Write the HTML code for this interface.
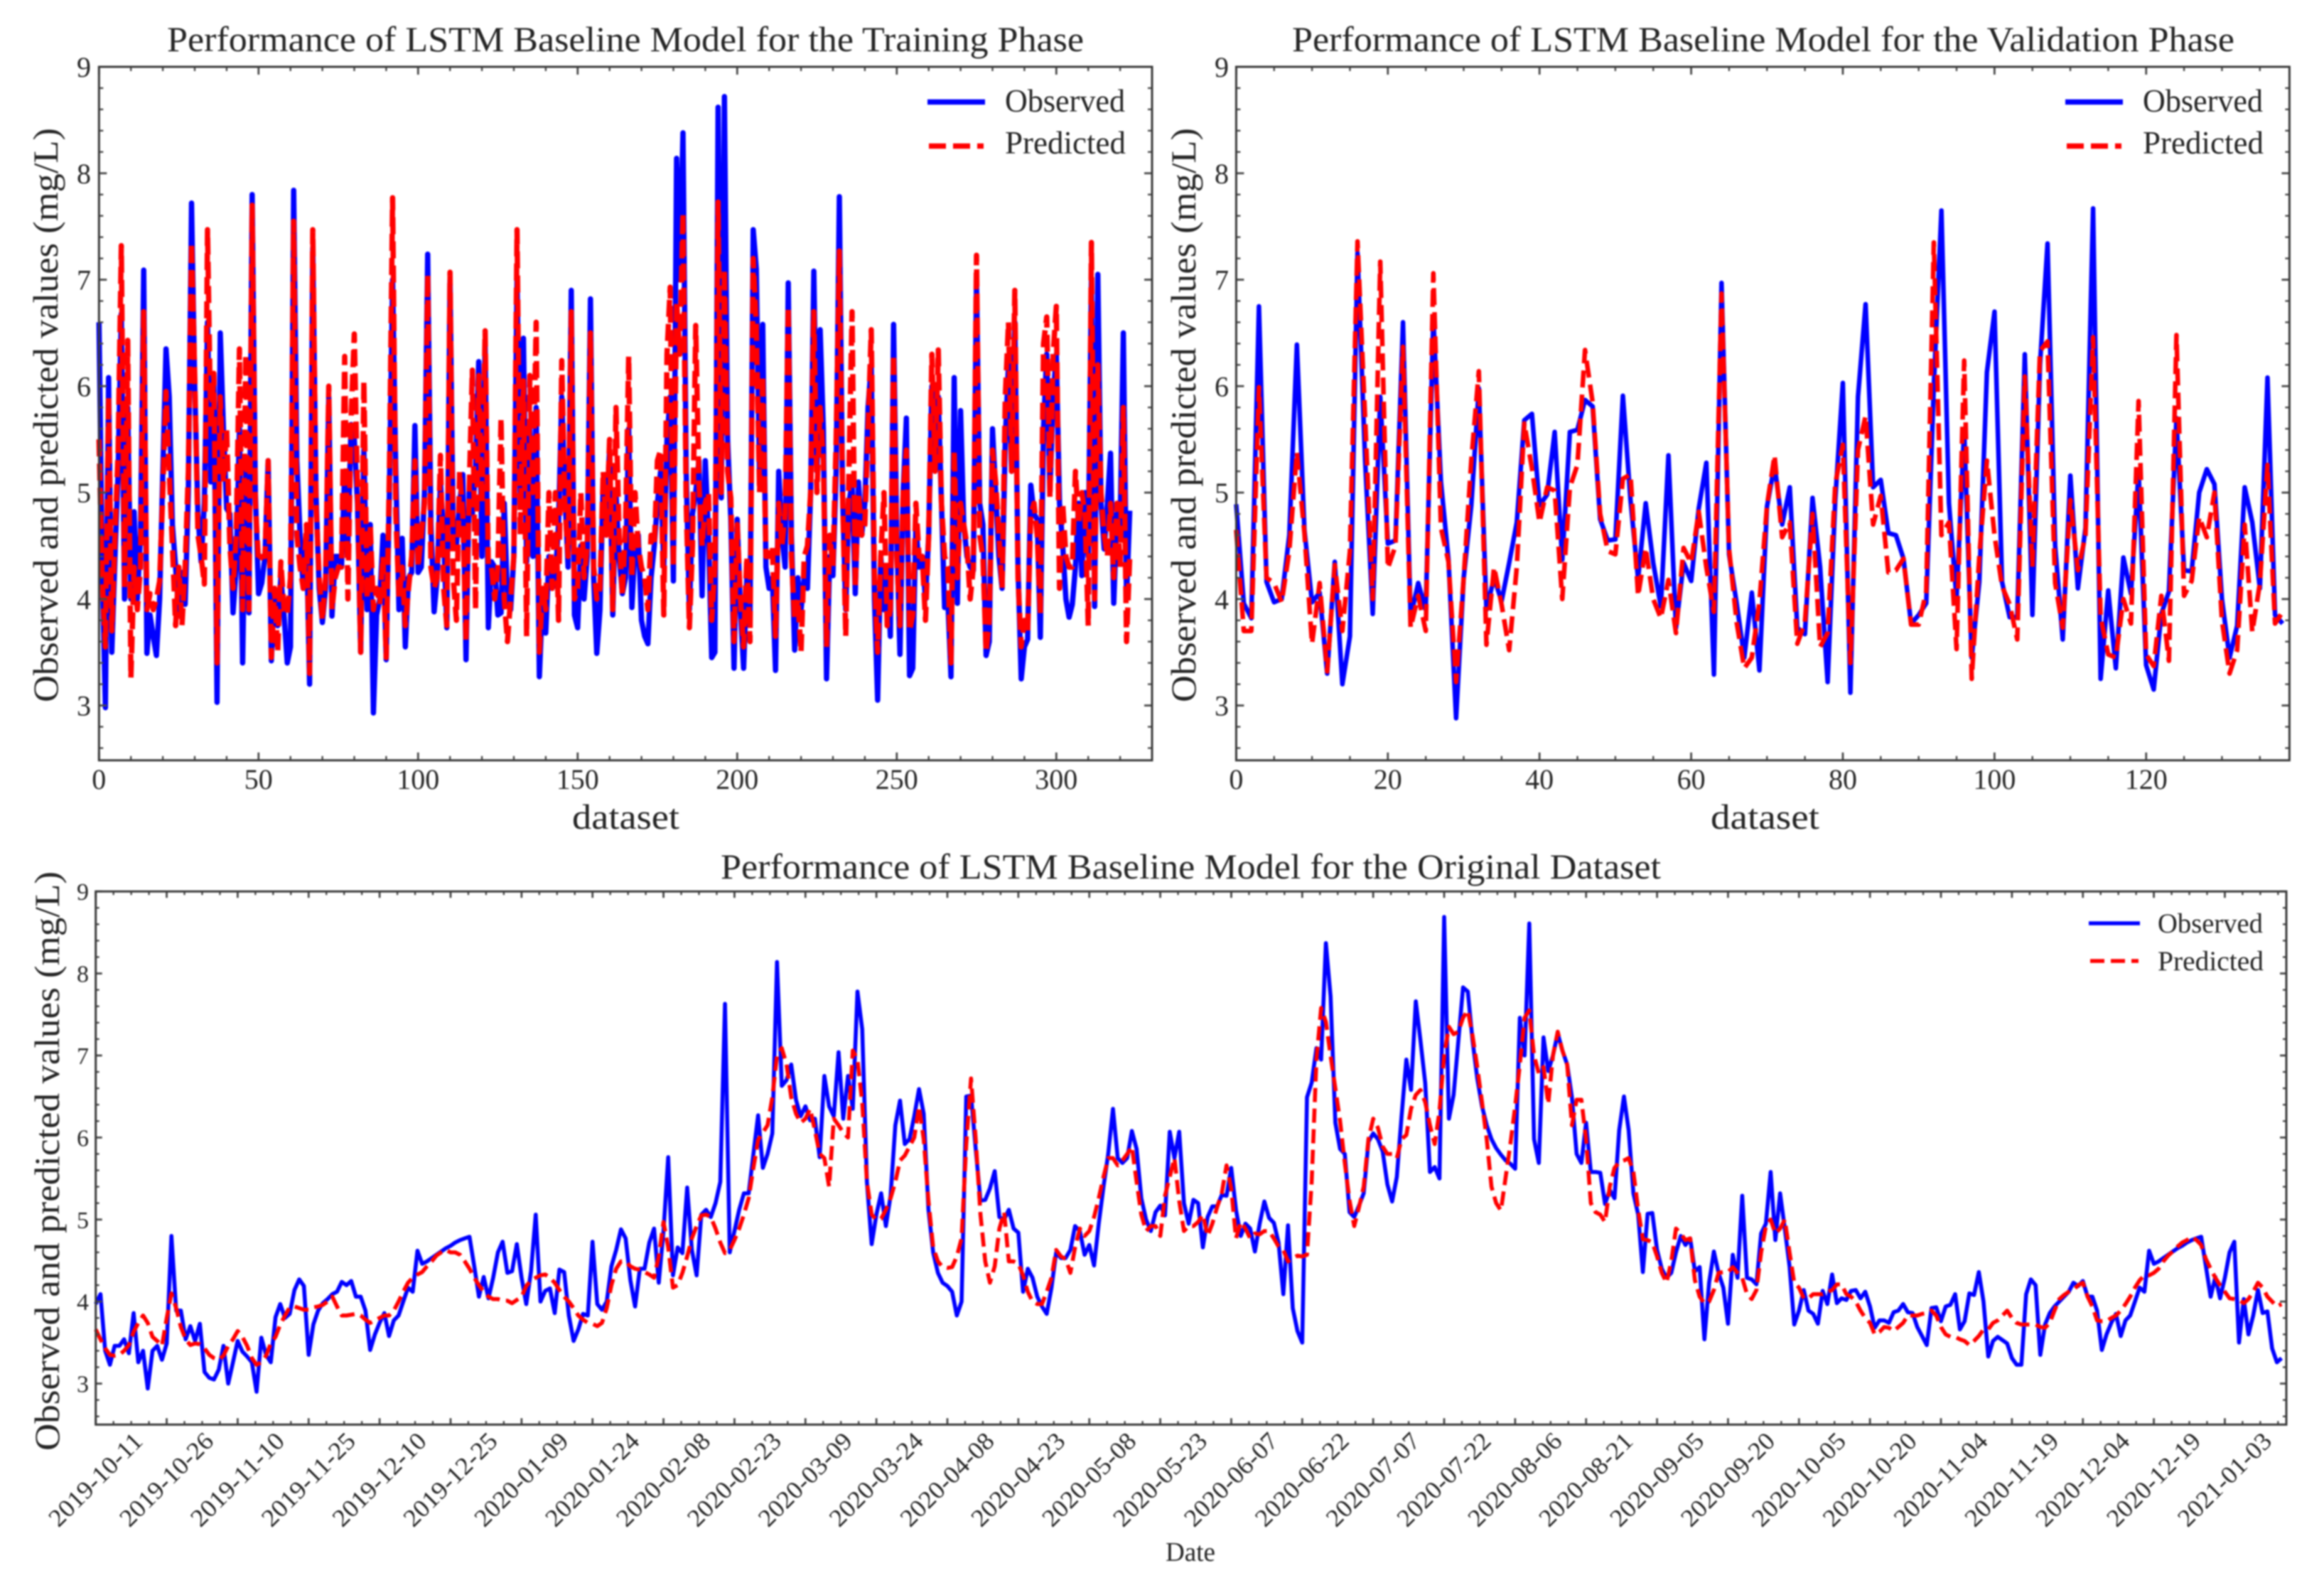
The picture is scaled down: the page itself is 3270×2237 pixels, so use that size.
<!DOCTYPE html>
<html lang="en">
<head>
<meta charset="utf-8">
<title>Performance of LSTM Baseline Model</title>
<style>
  html, body { margin: 0; padding: 0; background: #fff; }
  #figure { display: block; width: 3270px; height: 2237px; filter: blur(1px); }
  text { font-family: "Liberation Serif", serif; fill: #262626; }
  .title { font-size: 50px; }
  .axis-label { font-size: 50px; }
  .legend-top { font-size: 45px; }
  .legend-bottom { font-size: 39px; }
</style>
</head>
<body>
<svg id="figure" xmlns="http://www.w3.org/2000/svg" width="3270" height="2237" viewBox="0 0 3270 2237">
  <rect x="0" y="0" width="3270" height="2237" fill="#ffffff"/>

  <g id="panel-train"></g>
  <g id="panel-val"></g>
  <g id="panel-all"></g>

  <text class="title" x="235" y="72" textLength="1290" lengthAdjust="spacingAndGlyphs">Performance of LSTM Baseline Model for the Training Phase</text>
  <text class="title" x="1818" y="72" textLength="1326" lengthAdjust="spacingAndGlyphs">Performance of LSTM Baseline Model for the Validation Phase</text>
  <text class="title" x="1014" y="1236" textLength="1323" lengthAdjust="spacingAndGlyphs">Performance of LSTM Baseline Model for the Original Dataset</text>

  <text class="axis-label" transform="translate(81,988) rotate(-90)" textLength="808" lengthAdjust="spacingAndGlyphs">Observed and predicted values (mg/L)</text>
  <text class="axis-label" transform="translate(1682,988) rotate(-90)" textLength="808" lengthAdjust="spacingAndGlyphs">Observed and predicted values (mg/L)</text>
  <text class="axis-label" transform="translate(83,2041) rotate(-90)" textLength="815" lengthAdjust="spacingAndGlyphs">Observed and predicted values (mg/L)</text>

  <text class="axis-label" x="805" y="1166" textLength="151" lengthAdjust="spacingAndGlyphs">dataset</text>
  <text class="axis-label" x="2417" y="1166" textLength="153" lengthAdjust="spacingAndGlyphs" transform="translate(-10,0)">dataset</text>
  <text x="1640" y="2196" textLength="70" lengthAdjust="spacingAndGlyphs" font-size="38">Date</text>

  <g>
    <line x1="1305" y1="143.5" x2="1386" y2="143.5" stroke="#0000ff" stroke-width="7.5"/>
    <text class="legend-top" x="1414" y="157" textLength="169" lengthAdjust="spacingAndGlyphs">Observed</text>
    <line x1="1307" y1="205.5" x2="1384" y2="205.5" stroke="#ff0000" stroke-width="7.5" stroke-dasharray="24 10"/>
    <text class="legend-top" x="1414" y="216" textLength="170" lengthAdjust="spacingAndGlyphs">Predicted</text>
  </g>
  <g>
    <line x1="2906" y1="143.5" x2="2987" y2="143.5" stroke="#0000ff" stroke-width="7.5"/>
    <text class="legend-top" x="3015" y="157" textLength="169" lengthAdjust="spacingAndGlyphs">Observed</text>
    <line x1="2908" y1="205.5" x2="2985" y2="205.5" stroke="#ff0000" stroke-width="7.5" stroke-dasharray="24 10"/>
    <text class="legend-top" x="3015" y="216" textLength="170" lengthAdjust="spacingAndGlyphs">Predicted</text>
  </g>
  <g>
    <line x1="2939" y1="1299" x2="3011" y2="1299" stroke="#0000ff" stroke-width="5.6"/>
    <text class="legend-bottom" x="3036" y="1312" textLength="148" lengthAdjust="spacingAndGlyphs">Observed</text>
    <line x1="2941" y1="1352" x2="3009" y2="1352" stroke="#ff0000" stroke-width="5.6" stroke-dasharray="20 9"/>
    <text class="legend-bottom" x="3036" y="1365" textLength="149" lengthAdjust="spacingAndGlyphs">Predicted</text>
  </g>
</svg>

<script>
const trainObserved = [6.6,4.3,2.98,6.08,3.5,4.4,5.2,6.68,4.0,5.8,4.0,4.82,4.0,4.6,7.09,3.49,3.85,3.65,3.47,4.0,5.2,6.35,5.9,4.7,4.3,3.85,4.25,3.95,5.0,7.72,6.0,4.8,4.35,4.9,6.6,5.1,6.1,3.03,6.5,5.6,4.85,4.8,3.87,4.3,5.6,3.4,5.2,3.87,7.8,5.0,4.05,4.15,4.4,5.3,3.42,4.1,3.75,4.2,3.85,3.4,3.55,7.84,5.3,4.6,4.1,4.6,3.2,7.3,5.0,4.1,3.78,4.1,5.9,3.84,4.4,4.4,4.3,5.2,4.5,5.64,5.5,4.9,3.5,5.4,3.9,4.7,2.93,3.85,4.0,4.6,3.43,5.0,7.0,5.2,3.9,4.57,3.55,4.2,4.25,5.63,4.25,4.3,5.0,7.24,4.7,3.88,4.2,5.1,4.6,3.73,7.0,4.6,4.5,4.9,5.17,3.43,5.0,4.8,5.2,6.23,4.4,6.4,3.73,4.35,4.3,3.85,3.87,4.9,4.0,3.9,4.4,7.0,5.0,6.45,4.35,5.6,4.4,5.8,3.27,4.0,3.68,4.4,4.1,4.2,4.7,5.9,5.0,4.3,6.9,3.85,3.73,4.5,4.0,4.4,6.82,4.2,3.49,3.9,5.1,4.8,5.4,3.85,5.0,4.4,4.05,4.2,5.6,3.92,4.5,4.6,3.8,3.65,3.58,4.2,4.5,4.9,5.2,4.3,5.5,5.9,4.17,8.14,7.0,8.38,5.2,3.9,4.8,5.0,5.3,4.03,5.3,4.6,3.45,3.5,8.62,4.95,8.72,5.5,4.75,3.35,4.75,3.9,3.35,4.2,3.8,7.47,7.1,5.15,6.58,4.3,4.1,4.2,3.33,5.2,4.6,4.3,6.97,4.6,3.52,4.2,3.9,4.2,4.1,5.0,7.08,5.2,6.53,5.6,3.25,4.4,4.22,5.2,7.78,5.0,3.9,4.9,5.1,4.05,5.1,4.6,4.9,5.8,6.2,4.0,3.05,4.4,3.9,4.3,3.65,6.58,4.6,3.48,5.0,5.7,3.28,3.35,4.7,4.3,4.4,4.0,4.6,6.0,5.3,5.9,4.9,3.92,4.0,3.27,6.08,3.96,5.77,4.7,4.4,4.3,4.27,7.0,4.9,4.7,3.47,3.6,5.6,5.0,4.4,4.1,5.5,6.2,5.2,6.6,4.3,3.25,3.55,3.62,5.07,4.8,4.75,3.64,5.6,6.3,5.0,5.9,6.3,4.9,4.5,4.0,3.83,3.95,4.3,4.9,4.22,5.0,4.4,7.0,3.93,7.05,4.9,4.47,4.9,5.37,3.96,4.8,4.7,6.5,4.0,4.83];
const trainPredicted = [5.5,4.2,3.55,5.9,3.7,4.6,5.4,7.32,4.1,6.43,3.26,4.3,3.9,4.3,6.7,3.9,4.05,3.9,4.0,4.17,5.0,5.95,5.2,4.5,3.75,4.3,3.75,4.3,5.2,7.35,6.1,4.6,4.4,4.14,7.47,5.6,6.12,3.4,5.9,5.1,5.6,4.5,4.1,4.6,6.35,3.9,6.3,3.9,7.7,4.9,4.35,4.4,4.4,5.3,3.45,4.1,3.5,4.35,3.9,3.85,4.2,7.55,4.6,4.3,4.1,4.7,3.3,7.47,4.9,4.2,3.8,4.2,6.0,3.9,4.2,4.3,4.3,6.28,4.0,5.7,6.49,5.0,3.5,6.05,4.0,4.7,3.9,4.1,3.95,4.4,3.45,5.2,7.77,4.8,4.0,4.3,3.75,4.1,4.4,5.3,4.3,4.6,4.9,7.05,4.3,4.1,4.2,5.35,4.1,3.75,7.07,4.2,3.8,5.2,4.8,3.6,5.0,6.15,3.9,6.1,4.9,6.52,4.3,4.3,4.0,4.3,5.7,4.0,3.6,4.0,4.4,7.47,4.6,6.05,3.65,6.1,5.0,6.6,3.5,4.1,3.9,5.0,4.1,5.0,3.8,6.24,4.9,4.4,6.7,4.0,4.1,5.0,4.2,4.5,6.5,4.3,4.0,4.1,5.2,4.6,5.5,3.9,5.8,4.6,4.03,4.7,6.28,4.2,5.0,4.5,4.3,4.2,3.9,4.6,4.5,5.3,5.4,3.85,6.3,6.93,4.3,6.8,6.3,7.63,4.9,3.73,4.5,6.57,5.1,4.5,4.9,5.0,3.8,4.3,7.73,5.0,7.1,5.2,4.95,3.6,4.7,4.0,3.55,4.4,3.6,7.2,6.55,5.0,6.1,4.4,4.4,4.5,3.65,4.9,4.5,4.8,6.75,4.4,3.8,4.0,3.5,4.4,4.5,5.0,6.7,5.0,5.8,5.3,3.55,4.6,4.3,5.5,7.27,5.0,3.65,5.2,6.7,4.1,5.0,4.6,4.7,5.6,6.53,4.2,3.5,4.4,5.0,3.75,3.9,6.3,4.4,3.75,5.0,5.4,3.7,3.85,4.9,4.4,4.4,3.8,4.6,6.3,5.2,6.34,4.9,4.4,4.3,3.4,5.4,4.2,4.9,4.7,4.5,4.0,4.3,7.23,4.6,4.4,3.5,3.8,5.4,5.1,4.6,4.1,5.9,6.6,5.2,6.9,4.2,3.55,3.8,3.7,4.8,4.9,4.6,3.85,6.4,6.65,4.95,6.3,6.75,4.1,4.9,4.4,4.3,4.3,5.2,4.7,5.0,4.8,3.75,7.35,4.0,6.2,5.0,4.6,4.4,4.9,4.2,4.9,4.3,5.8,3.6,4.4];

const valObserved = [4.89,3.96,3.82,6.75,4.16,3.97,4.0,4.6,6.39,4.65,3.97,4.06,3.3,4.35,3.2,3.65,7.25,5.3,3.86,5.9,4.52,4.55,6.6,3.83,4.15,3.9,6.64,5.1,4.37,2.88,4.2,4.88,5.98,3.9,4.2,3.98,4.34,4.72,5.68,5.74,4.88,4.98,5.57,4.37,5.57,5.59,5.87,5.81,4.75,4.55,4.56,5.91,4.93,4.19,4.9,4.34,3.93,5.35,3.73,4.34,4.17,4.85,5.28,3.29,6.97,4.42,3.96,3.45,4.06,3.33,4.87,5.26,4.7,5.05,3.73,3.67,4.95,4.3,3.22,4.93,6.03,3.12,5.9,6.77,5.05,5.12,4.62,4.6,4.38,3.77,3.85,3.96,6.0,7.65,4.9,4.0,5.6,3.45,4.16,6.13,6.7,4.16,3.83,3.83,6.3,3.85,6.2,7.34,4.5,3.62,5.16,4.1,4.67,7.67,3.25,4.08,3.35,4.39,4.05,5.2,3.38,3.15,3.86,4.07,5.7,4.27,4.26,5.0,5.22,5.08,4.0,3.45,3.75,5.05,4.72,4.1,6.08,3.85,3.77];
const valPredicted = [4.65,3.7,3.7,5.99,4.2,4.15,3.97,4.45,5.38,4.62,3.58,4.15,3.32,4.32,3.7,4.45,7.36,5.7,4.0,7.17,4.29,4.5,6.37,3.73,4.03,3.7,7.06,4.67,4.35,3.22,4.2,5.3,6.14,3.57,4.3,3.95,3.52,4.3,5.65,5.23,4.72,5.05,5.02,4.0,5.05,5.26,6.34,5.85,4.8,4.45,4.42,5.13,5.17,4.03,4.48,4.0,3.82,4.18,3.68,4.48,4.34,4.82,4.3,3.88,6.87,4.47,3.78,3.35,3.45,3.97,4.88,5.35,4.58,4.72,3.58,3.78,4.8,3.55,3.68,5.08,5.45,3.4,5.4,5.72,4.7,4.97,4.25,4.27,4.38,3.76,3.76,4.07,7.35,4.6,4.72,3.53,6.24,3.25,4.4,5.3,4.6,4.12,3.95,3.62,6.09,4.3,6.33,6.42,4.15,3.73,4.93,4.27,4.6,6.46,3.83,3.48,3.45,4.0,3.77,5.86,3.48,3.37,4.03,3.42,6.48,4.03,4.17,4.77,4.58,5.0,3.8,3.3,3.52,4.7,3.69,4.15,5.26,3.77,3.88];

const allObserved = [3.97,4.09,3.4,3.23,3.46,3.46,3.54,3.37,3.86,3.26,3.4,2.94,3.4,3.46,3.29,3.49,4.8,3.89,3.89,3.54,3.7,3.52,3.73,3.14,3.07,3.05,3.17,3.46,3.0,3.26,3.52,3.39,3.33,3.26,2.9,3.56,3.35,3.26,3.81,3.97,3.8,3.85,4.14,4.27,4.19,3.35,3.72,3.89,3.98,4.03,4.09,4.12,4.24,4.2,4.25,4.06,4.06,3.89,3.41,3.6,3.74,3.86,3.58,3.77,3.83,4.0,4.17,4.12,4.62,4.46,4.49,4.53,4.57,4.61,4.65,4.68,4.72,4.75,4.77,4.79,4.43,4.06,4.3,4.04,4.29,4.6,4.73,4.35,4.37,4.7,4.29,3.97,4.37,5.06,4.0,4.13,4.16,3.86,4.39,4.36,3.83,3.52,3.66,3.85,3.83,4.73,3.97,3.9,4.0,4.43,4.63,4.88,4.77,4.26,3.94,4.4,4.4,4.72,4.89,4.23,4.86,5.76,4.32,4.66,4.59,5.39,4.63,4.32,5.06,5.12,5.03,5.2,5.46,7.63,4.6,4.86,5.12,5.32,5.32,5.8,6.27,5.63,5.8,6.05,8.14,6.63,6.7,6.89,6.46,6.26,6.38,6.21,6.23,5.76,6.75,6.38,6.26,7.04,6.23,6.75,6.35,7.78,7.32,5.46,4.7,5.06,5.32,4.92,5.29,6.15,6.45,5.92,5.98,6.26,6.59,6.29,5.12,4.6,4.35,4.23,4.19,4.12,3.83,4.0,6.5,6.51,5.86,5.23,5.24,5.38,5.59,5.03,5.0,5.12,4.89,4.84,4.12,4.4,4.29,4.06,3.94,3.85,4.17,4.6,4.53,4.53,4.63,4.92,4.86,4.57,4.69,4.44,4.95,5.4,5.8,6.35,5.75,5.69,5.75,6.08,5.86,5.26,5.0,4.86,5.09,5.17,5.05,6.07,5.75,6.07,5.2,4.95,5.24,5.2,4.66,5.03,5.16,5.16,5.3,5.29,5.63,5.12,4.8,4.95,4.89,4.61,4.95,5.22,5.02,4.96,4.72,4.09,4.93,3.92,3.64,3.5,6.49,6.67,7.09,6.95,8.37,7.72,6.18,5.86,5.8,5.09,5.03,5.17,5.32,5.95,6.05,5.98,5.83,5.43,5.22,5.52,6.26,6.95,6.58,7.66,7.18,6.66,5.58,5.64,5.5,8.69,6.23,6.52,7.18,7.83,7.78,7.18,6.72,6.38,6.15,5.98,5.87,5.79,5.72,5.68,5.62,7.46,7.0,8.61,5.98,5.69,7.22,6.81,7.0,7.27,7.06,6.89,6.49,5.8,5.69,6.18,5.58,5.58,5.57,5.19,5.36,5.26,6.09,6.5,6.09,5.32,5.06,4.36,5.07,5.08,4.63,4.4,4.29,4.35,4.6,4.8,4.69,4.77,4.37,4.42,3.54,4.23,4.61,4.35,4.17,3.73,4.57,4.29,5.29,4.29,4.27,4.21,4.83,4.95,5.58,4.75,5.32,4.89,4.43,3.72,3.89,4.14,3.89,3.85,3.73,4.13,3.97,4.33,3.98,4.04,4.02,4.13,4.14,4.04,4.12,3.94,3.68,3.77,3.77,3.74,3.87,3.89,3.97,3.87,3.86,3.69,3.58,3.47,3.92,3.93,3.76,3.94,3.96,4.09,3.66,3.76,4.1,4.08,4.36,4.0,3.33,3.52,3.57,3.53,3.49,3.31,3.23,3.23,4.09,4.27,4.2,3.35,3.72,3.86,3.94,4.0,4.06,4.12,4.23,4.19,4.25,4.06,4.06,3.89,3.41,3.6,3.74,3.85,3.58,3.77,3.83,4.0,4.17,4.12,4.62,4.46,4.49,4.53,4.57,4.61,4.65,4.68,4.72,4.75,4.77,4.79,4.43,4.06,4.3,4.04,4.29,4.6,4.73,3.5,4.03,3.6,3.83,4.14,3.86,3.88,3.43,3.26,3.31];
const allPredicted = [3.66,3.54,3.43,3.35,3.34,3.35,3.4,3.47,3.63,3.74,3.83,3.74,3.57,3.52,3.46,3.8,4.1,3.92,3.69,3.54,3.47,3.49,3.48,3.43,3.35,3.31,3.29,3.34,3.46,3.54,3.64,3.57,3.46,3.31,3.23,3.26,3.34,3.49,3.57,3.72,3.83,3.93,3.94,3.92,3.9,3.9,3.93,3.94,3.96,4.0,4.06,3.94,3.83,3.83,3.84,3.85,3.83,3.78,3.74,3.77,3.8,3.83,3.83,3.89,4.0,4.12,4.23,4.29,4.33,4.36,4.43,4.49,4.56,4.6,4.63,4.6,4.6,4.57,4.49,4.4,4.29,4.2,4.12,4.06,4.03,4.03,4.01,4.01,3.98,4.02,4.06,4.19,4.26,4.29,4.32,4.33,4.29,4.23,4.14,4.06,4.0,3.92,3.83,3.78,3.74,3.73,3.7,3.74,3.92,4.2,4.4,4.49,4.49,4.43,4.4,4.39,4.36,4.33,4.29,4.55,4.97,4.66,4.17,4.2,4.35,4.55,4.77,4.92,5.05,5.06,5.03,4.89,4.72,4.59,4.63,4.75,4.89,5.06,5.26,5.63,5.97,6.06,6.15,6.49,7.0,7.09,6.89,6.49,6.29,6.18,6.23,6.35,6.09,5.8,5.75,5.4,6.23,6.15,6.06,6.0,7.06,6.95,6.43,5.46,5.06,5.0,5.01,5.12,5.26,5.46,5.72,5.78,5.89,6.0,6.38,5.98,5.23,4.66,4.49,4.42,4.41,4.42,4.55,4.77,5.92,6.72,5.98,5.06,4.49,4.23,4.43,4.89,5.09,4.49,4.49,4.46,4.32,4.12,4.0,3.97,3.97,4.12,4.29,4.63,4.55,4.52,4.35,4.66,4.89,4.8,4.86,5.03,5.26,5.52,5.75,5.75,5.66,5.72,5.8,5.89,5.46,5.06,4.86,4.92,4.92,4.8,5.29,5.52,5.75,5.23,4.86,4.92,4.92,4.97,5.06,4.8,4.95,5.15,5.32,5.66,5.38,4.77,4.97,4.89,4.77,4.83,4.82,4.86,4.86,4.77,4.67,4.63,4.49,4.53,4.56,4.55,4.57,5.46,6.95,7.58,7.41,7.0,6.6,6.2,5.69,5.23,4.92,5.15,5.4,5.98,6.23,6.12,5.89,5.8,5.8,5.75,5.98,6.03,6.35,6.52,6.58,6.43,6.15,5.92,6.32,7.0,7.35,7.26,7.29,7.46,7.55,7.24,6.86,6.43,5.98,5.4,5.2,5.11,5.52,5.92,6.38,6.89,7.46,7.55,7.0,6.78,6.86,6.41,7.0,7.29,7.06,6.89,6.15,6.46,6.46,5.98,5.2,5.09,5.06,4.97,5.4,5.63,5.7,5.72,5.75,5.58,5.12,4.76,4.75,4.72,4.55,4.35,4.23,4.49,4.89,4.83,4.75,4.77,4.26,4.06,3.98,4.0,4.14,4.35,4.36,4.36,4.42,4.35,4.29,4.09,4.03,4.14,4.6,4.92,5.0,4.83,4.89,5.0,4.6,4.23,4.17,4.04,4.04,4.09,4.09,4.09,4.12,4.14,4.21,4.21,4.09,4.06,4.0,3.89,3.8,3.74,3.6,3.63,3.69,3.68,3.64,3.69,3.74,3.83,3.83,3.83,3.85,3.86,3.89,3.83,3.69,3.6,3.57,3.57,3.54,3.52,3.47,3.52,3.58,3.66,3.66,3.74,3.77,3.83,3.89,3.8,3.74,3.72,3.72,3.72,3.72,3.69,3.68,3.74,3.89,4.03,4.08,4.12,4.14,4.2,4.23,4.06,3.94,3.77,3.76,3.76,3.8,3.83,3.89,3.97,4.06,4.17,4.26,4.32,4.32,4.35,4.4,4.49,4.56,4.61,4.67,4.72,4.75,4.79,4.75,4.69,4.52,4.4,4.29,4.2,4.12,4.04,4.03,4.02,3.98,4.03,4.12,4.23,4.17,4.06,4.0,3.94,3.97];

const dateLabels = ["2019-10-11","2019-10-26","2019-11-10","2019-11-25","2019-12-10","2019-12-25","2020-01-09","2020-01-24","2020-02-08","2020-02-23","2020-03-09","2020-03-24","2020-04-08","2020-04-23","2020-05-08","2020-05-23","2020-06-07","2020-06-22","2020-07-07","2020-07-22","2020-08-06","2020-08-21","2020-09-05","2020-09-20","2020-10-05","2020-10-20","2020-11-04","2020-11-19","2020-12-04","2020-12-19","2021-01-03"];
const yTickValues = [3,4,5,6,7,8,9];
const trainXTicks = [0,50,100,150,200,250,300];
const valXTicks = [0,20,40,60,80,100,120];

const SVGNS = 'http://www.w3.org/2000/svg';

function addLine(parent, x1, y1, x2, y2, width, name) {
  const el = document.createElementNS(SVGNS, 'line');
  el.setAttribute('x1', x1);
  el.setAttribute('y1', y1);
  el.setAttribute('x2', x2);
  el.setAttribute('y2', y2);
  el.setAttribute('stroke', '#4a4a4a');
  el.setAttribute('stroke-width', width);
  
  
  parent.appendChild(el);
}

function addLabel(parent, x, y, str, size, anchor, name, rotate) {
  const el = document.createElementNS(SVGNS, 'text');
  if (rotate) {
    el.setAttribute('transform', 'translate(' + x + ',' + y + ') rotate(' + rotate + ')');
    el.setAttribute('y', '11');
    el.setAttribute('textLength', '170');
    el.setAttribute('lengthAdjust', 'spacingAndGlyphs');
  } else {
    el.setAttribute('x', x);
    el.setAttribute('y', y);
  }
  el.setAttribute('font-size', size);
  el.setAttribute('text-anchor', anchor);
  
  
  el.textContent = str;
  parent.appendChild(el);
}

function addSeries(parent, values, sx, sy, color, width, dash, name) {
  const el = document.createElementNS(SVGNS, 'polyline');
  el.setAttribute('points', values.map(function (v, i) { return sx(i).toFixed(1) + ',' + sy(v).toFixed(1); }).join(' '));
  el.setAttribute('fill', 'none');
  el.setAttribute('stroke', color);
  el.setAttribute('stroke-width', width);
  el.setAttribute('stroke-linejoin', 'round');
  if (dash) el.setAttribute('stroke-dasharray', dash);
  
  
  parent.appendChild(el);
}

function drawPanel(c) {
  const g = document.getElementById(c.id);
  const sx = function (v) { return c.left + (v - c.xMin) / (c.xMax - c.xMin) * (c.right - c.left); };
  const sy = function (v) { return c.top + (c.yMax - v) / (c.yMax - c.yMin) * (c.bottom - c.top); };

  addSeries(g, c.observed, sx, sy, '#0000ff', c.lineWidth, null, 'observed-line');
  addSeries(g, c.predicted, sx, sy, '#ff0000', c.lineWidth, c.dash, 'predicted-line');

  for (let v = c.xMin; v <= c.xMax; v += c.xMinorStep) {
    addLine(g, sx(v), c.bottom, sx(v), c.bottom - c.minorLen, 2.4, 'x-minor-tick');
    addLine(g, sx(v), c.top, sx(v), c.top + c.minorLen, 2.4, 'x-minor-tick-top');
  }
  for (let v = 2.6; v < 9; v += 0.2) {
    if (sy(v) < c.bottom) {
      addLine(g, c.left, sy(v), c.left + c.minorLen, sy(v), 2.4, 'y-minor-tick');
      addLine(g, c.right, sy(v), c.right - c.minorLen, sy(v), 2.4, 'y-minor-tick-right');
    }
  }
  c.xTicks.forEach(function (v, i) {
    addLine(g, sx(v), c.bottom, sx(v), c.bottom - c.majorLen, 2.8, 'x-major-tick');
    addLine(g, sx(v), c.top, sx(v), c.top + c.majorLen, 2.8, 'x-major-tick-top');
    if (c.xLabels) {
      addLabel(g, sx(v), c.xLabelY, c.xLabels[i], c.xLabelSize, 'middle', 'x-tick-label', -45);
    } else {
      addLabel(g, sx(v), c.xLabelY, String(v), c.tickSize, 'middle', 'x-tick-label');
    }
  });
  yTickValues.forEach(function (v) {
    addLine(g, c.left, sy(v), c.left + c.majorLen, sy(v), 2.8, 'y-major-tick');
    addLine(g, c.right, sy(v), c.right - c.majorLen, sy(v), 2.8, 'y-major-tick-right');
    addLabel(g, c.yLabelX, sy(v) + c.yLabelDy, String(v), c.tickSize, 'end', 'y-tick-label');
  });

  const frame = document.createElementNS(SVGNS, 'rect');
  frame.setAttribute('x', c.left);
  frame.setAttribute('y', c.top);
  frame.setAttribute('width', c.right - c.left);
  frame.setAttribute('height', c.bottom - c.top);
  frame.setAttribute('fill', 'none');
  frame.setAttribute('stroke', '#3a3a3a');
  frame.setAttribute('stroke-width', '3');
  
  
  g.appendChild(frame);
}

drawPanel({
  id: 'panel-train', left: 139.3, right: 1621, top: 94, bottom: 1069.7,
  xMin: 0, xMax: 330, yMin: 2.485, yMax: 9,
  xTicks: trainXTicks, xMinorStep: 10,
  observed: trainObserved, predicted: trainPredicted,
  lineWidth: 7.5, dash: '24 10', majorLen: 11, minorLen: 6,
  tickSize: 40, xLabelY: 1110, yLabelX: 128, yLabelDy: 14
});
drawPanel({
  id: 'panel-val', left: 1739.4, right: 3221.4, top: 94, bottom: 1069.7,
  xMin: 0, xMax: 138.9, yMin: 2.485, yMax: 9,
  xTicks: valXTicks, xMinorStep: 5,
  observed: valObserved, predicted: valPredicted,
  lineWidth: 6.5, dash: '24 10', majorLen: 11, minorLen: 6,
  tickSize: 40, xLabelY: 1110, yLabelX: 1729, yLabelDy: 14
});
drawPanel({
  id: 'panel-all', left: 134.7, right: 3217, top: 1254.2, bottom: 2004.3,
  xMin: 0, xMax: 463, yMin: 2.5, yMax: 9,
  xTicks: dateLabels.map(function (d, i) { return i * 15; }), xMinorStep: 3.75,
  xLabels: dateLabels, xLabelSize: 35, xLabelY: 2082,
  observed: allObserved, predicted: allPredicted,
  lineWidth: 5.6, dash: '20 9', majorLen: 9, minorLen: 5,
  tickSize: 34, yLabelX: 125, yLabelDy: 12
});
</script>
</body>
</html>
